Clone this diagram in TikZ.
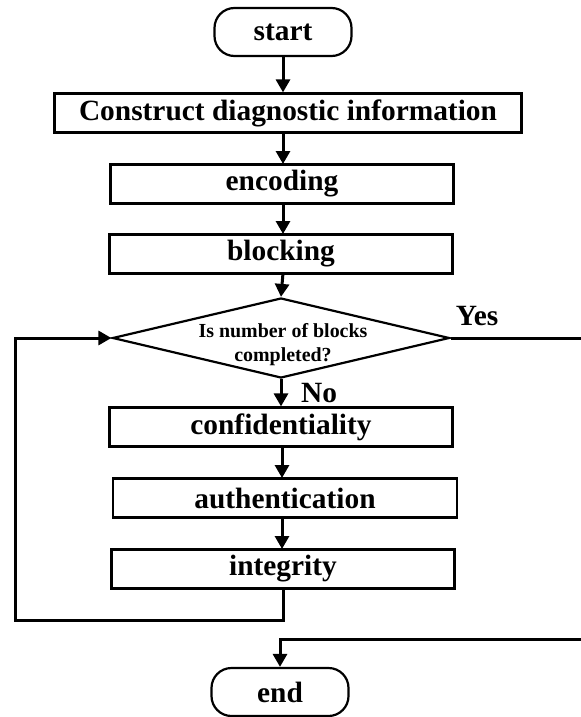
\documentclass[tikz,border=0pt]{standalone}
\usepackage{fontspec}
\setmainfont{Liberation Serif}
\usetikzlibrary{shapes.geometric, arrows.meta, positioning}

\begin{document}
\begin{tikzpicture}[x=1bp, y=-1bp,
    every node/.style={font=\fontsize{29.5}{31}\selectfont\bfseries},
    block/.style={draw, line width=2.2bp, minimum height=39bp, inner sep=0pt},
    term/.style={draw, line width=2.2bp, rounded corners=20bp, minimum width=137bp, minimum height=48bp},
    decide/.style={draw, diamond, line width=2.2bp, aspect=4.2, minimum width=337bp, minimum height=80bp, inner sep=0pt},
    smalltext/.style={font=\fontsize{20}{24}\selectfont\bfseries, align=center},
    flow/.style={line width=3bp, -{Triangle[length=13bp,width=14bp]}},
    wire/.style={line width=3bp}]
    \useasboundingbox (0,0) rectangle (581,717);
    % boxes
    \node[term] (start) at (283,32) {start};
    \node[block, minimum width=467bp] (construct) at (288,113) {Construct diagnostic information};
    \node[block, minimum width=343bp] (encoding) at (282,184) {encoding};
    \node[block, minimum width=343bp] (blocking) at (281,254) {blocking};
    \node[decide] (check) at (281,338) {};
    \node[smalltext] (checktext) at (283,345) {Is number of blocks\\completed?};
    \node[block, minimum width=343bp] (confid) at (281,427) {confidentiality};
    \node[block, minimum width=344bp] (auth) at (285,498) {authentication};
    \node[block, minimum width=343bp] (integ) at (283,569) {integrity};
    \node[term] (end) at (280,692) {end};
    % labels
    \node (yes) at (477,316) {Yes};
    \node (no) at (319,393) {No};
    % free ends
    \coordinate (loopdown) at (283,620);
    \coordinate (loopleft) at (15,620);
    \coordinate (loopup) at (15,338);
    \coordinate (yesout) at (581,338);
    \coordinate (backin) at (581,639);
    \coordinate (backturn) at (280,639);
    % arrows
    \draw[flow] (start.south) -- (start.south |- construct.north);
    \draw[flow] (283,133) -- (283,164);
    \draw[flow] (283,203) -- (283,234);
    \draw[flow] (283,273) -- (check.north);
    \draw[flow] (check.south) -- (check.south |- confid.north);
    \draw[flow] (282,446) -- (282,478);
    \draw[flow] (282,517) -- (282,549);
    \draw[flow] (integ.south -| loopdown) -- (loopdown) -- (loopleft) -- (loopup) -- (check.west);
    \draw[wire] (check.east) -- (yesout);
    \draw[flow] (backin) -- (backturn) -- (end.north);
\end{tikzpicture}
\end{document}
